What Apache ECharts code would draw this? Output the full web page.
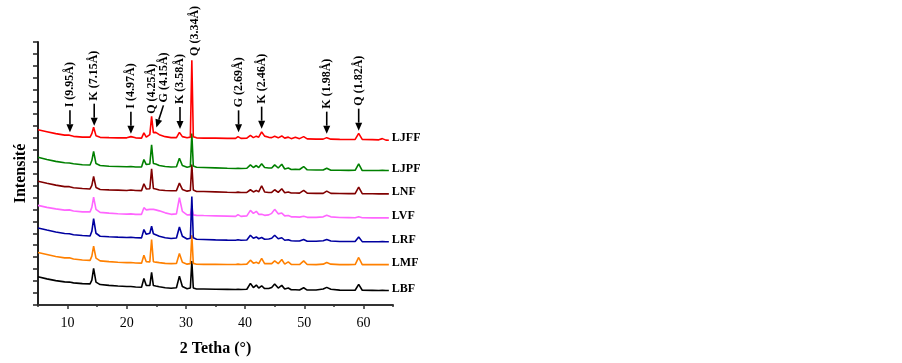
<!DOCTYPE html>
<html><head><meta charset="utf-8">
<script src="https://cdn.jsdelivr.net/npm/echarts@6/dist/echarts.min.js"></script>
<style>html,body{margin:0;padding:0;background:#fff}#c{width:902px;height:363px}</style>
</head><body><div id="c"></div>
<script>
// 2θ grid (degrees)
const twoTheta = [5,6.5,8,9.5,10.3,11,12.5,13.8,14.1,14.4,14.8,15.5,17,18.5,20,20.7,21.5,22.5,22.9,23.3,23.9,24.2,24.5,24.9,25.5,26.5,27.5,28.4,28.9,29.4,30.2,30.75,31.0,31.25,31.8,33,35,37,38.4,38.8,39.3,40.3,40.9,41.4,41.9,42.3,42.8,43.3,44,44.5,45.0,45.6,46.2,46.7,47.3,47.8,48.5,49.2,49.9,50.5,52,53.2,53.8,54.5,56,57.5,58.6,59.2,59.8,61.5,62.6,63.2,63.8,64.3];

// stacked intensities (a.u., offset per sample)
const LJFF = [176,174,172,170.5,170.5,169.3,168.5,168.5,172,178.5,170,168.3,168,167.8,167.8,169,167.8,167.5,172.7,168.5,171,189.3,173,173.3,171,169,168,168,173.3,169,167.8,168.5,245.7,169,167.8,167.5,167.5,167.3,167.3,169,167.3,167.5,170.3,168,169.5,168.5,173.7,169.5,168.3,168,169.3,167.8,169.7,167.5,168.5,167,168.5,167,169,166.8,166.5,166.5,168,166.5,166.3,166.2,166.3,172.3,166.2,166,165.8,167,165.5,165.3];
const LJPF = [148.3,146,144.2,142.8,142.6,141.8,140.8,140.5,145,154.3,142,140,139.3,139,138.7,139,138.5,138.5,146,141,141.5,160.7,142,141.5,140,139,138.5,138.7,147.3,140,138.3,139,172,139.5,138.2,138,137.6,137.2,137,137.3,137,137.3,140.7,138,140,138,141.7,138,137.5,137.5,140.7,137.5,141.3,136.5,137.5,136,136.2,136,139,135.7,135.5,135.5,137.3,135.3,135.2,135.1,135.2,141.7,135,135,135,135.3,135,135];
const LNF = [124.3,122.2,120.3,118.8,118.8,117.7,116.9,116.5,120,129,118,116,115.6,115.3,115,115.5,115,114.8,121.7,116.5,116.7,136.7,117,116.5,115.5,115,114.7,114.8,122.3,116,114.3,115,141,115.5,114,114,113.6,113.2,113,113.3,113,113,115.7,113.5,115,113.5,119.7,113.5,113,113,115.7,113,116.7,112.7,113.5,112.5,112.5,112.3,115,112.2,112,112,114.3,112,111.9,111.8,111.8,118.3,111.7,111.6,111.5,111.6,111.5,111.5];
const LVF = [100,98,96.5,95.2,95.5,94.3,93.5,93.5,98,108.3,96,93,92.2,91.6,91.2,91.5,91,91,97.7,95.5,96,96.5,96,95.5,94.5,92.5,91,91.5,107.7,94,90.5,90.5,98,90.5,90,89.8,89.5,89.2,89,90.7,89,89.5,95,92,94,91,91,90,90.5,92,96,91.5,92.3,89.5,89.8,88.5,88.5,88.2,89,88,88,88.5,90,88.5,87.8,87.7,87.6,88.5,87.6,87.5,87.5,87.6,87.5,87.5];
const LRF = [77.3,75.2,73.2,71.7,71.5,70.5,69.7,69.3,74,86.7,72,69,68.5,68.1,67.8,68,67.5,67.4,75.7,71,72,79,71.5,70.5,69,67.5,66.8,67.2,78.3,69,66.2,67,109,67.5,66,65.8,65.4,65.1,65,65.5,65,65.3,70,67,68.3,66.5,67.7,66,66.3,67,70,66.5,67.5,65,65.5,64.5,64.3,64.2,65.7,64,64,64.5,65.7,64.3,63.8,63.7,63.7,68.3,63.6,63.5,63.5,63.6,63.5,63.5];
const LMF = [52.7,50.7,48.7,47.3,47.5,46.2,45.2,44.8,49,59,47,44.3,43.5,42.9,42.5,42.6,42.2,42,50,43.5,43.3,65.7,43.5,43,42.5,41.8,41.5,41.7,51.7,43,41,41.5,70,41.8,40.9,40.8,40.8,40.7,40.7,41,40.7,41,45,42,43,41.5,46.7,41.5,41.5,41.5,44.3,41.5,45.7,41,43.3,40.7,40.7,40.6,44.3,40.6,40.5,41,42.7,41,40.5,40.5,40.6,47.7,40.5,40.5,40.5,40.6,40.5,40.5];
const LBF = [28.3,26.2,24.5,23.2,23,22.2,21.5,21.2,25,36.7,23,20.5,19.7,19,18.5,18.6,18.1,17.8,26.7,19.5,19.5,32.7,19.5,19,18.3,17.3,16.8,17.3,29,18.5,16.3,17,44,17,16,16,15.8,15.7,15.6,15.8,15.5,15.8,21.7,17.5,20,17,19.3,16.5,16.5,17.5,21,17,19.7,16,17,15.3,15.3,15.1,17.3,15,15,16,17.7,15.8,14.9,14.8,14.8,20.7,14.8,14.7,14.6,14.8,14.5,14.5];

const sampleNames = ['LBF','LMF','LVF','LRF','LNF','LJPF','LJFF'];
const sampleValues = [LBF, LMF, LVF, LRF, LNF, LJPF, LJFF];
const sampleColors = ['#000000','#ff8000','#ff66ff','#0000a0','#800000','#008000','#ff0000'];

const xTickLabels = [10,20,30,40,50,60];

// peak annotations
const annLabels = ['I (9.95Å)','K (7.15Å)','I (4.97Å)','Q (4.25Å)','G (4.15Å)','K (3.58Å)','Q (3.34Å)','G (2.69Å)','K (2.46Å)','K (1.98Å)','Q (1.82Å)'];
const annTheta = [10.4,14.5,20.7,24.2,25.0,29.0,31.5,38.9,42.8,53.8,59.2];
const annTip = [173.3,180,172,192,178.3,176.7,250,173.3,177,172,175];
const annTextTheta = [10.4,14.5,20.7,24.2,26.2,29.0,31.5,38.9,42.8,53.8,59.2];
const annArrow = [1,1,1,0,1,1,0,1,1,1,1];

const FONT = '"Liberation Serif","Times New Roman",serif';
const chart = echarts.init(document.getElementById('c'), null, {renderer:'canvas'});

const lineSeries = sampleNames.map((n, k) => ({
  name: n, type: 'line', symbol: 'none', animation: false,
  data: twoTheta.map((t, i) => [t, sampleValues[k][i]]),
  lineStyle: {color: sampleColors[k], width: 1.6},
  itemStyle: {color: sampleColors[k]},
  endLabel: {show: true, formatter: n, distance: 3, offset: [0, -2],
    fontFamily: FONT, fontWeight: 'bold', fontSize: 12, color: '#000'}
}));

const ARROW_LEN = 22;
const annSeries = {
  type: 'custom', animation: false, clip: false, silent: true,
  data: annLabels.map((l, i) => [annTheta[i], annTip[i], annTextTheta[i], annArrow[i], i]),
  encode: {x: 0, y: 1},
  renderItem: function (params, api) {
    const tip = api.coord([api.value(0), api.value(1)]);
    const tx = api.coord([api.value(2), api.value(1)])[0];
    const idx = params.dataIndex;
    const children = [];
    let textBottom;
    if (api.value(3) === 1) {
      const sy = tip[1] - ARROW_LEN;
      const dx = tip[0] - tx, dy = tip[1] - sy;
      const L = Math.hypot(dx, dy), ux = dx / L, uy = dy / L;
      const headLen = 8, headW = 3.5;
      const bx = tip[0] - ux * headLen, by = tip[1] - uy * headLen;
      children.push({type: 'line', shape: {x1: tx, y1: sy, x2: bx, y2: by}, style: {stroke: '#000', lineWidth: 1.6}});
      children.push({type: 'polygon', shape: {points: [[tip[0], tip[1]], [bx - uy * headW, by + ux * headW], [bx + uy * headW, by - ux * headW]]}, style: {fill: '#000'}});
      textBottom = sy - 3;
    } else {
      textBottom = tip[1];
    }
    children.push({type: 'text', x: tx, y: textBottom, rotation: Math.PI / 2,
      style: {text: annLabels[idx], fontFamily: FONT, fontWeight: 'bold', fontSize: 12, fill: '#000', align: 'left', verticalAlign: 'middle'}});
    return {type: 'group', children: children};
  }
};

chart.setOption({
  animation: false,
  backgroundColor: '#fff',
  grid: {left: 38, right: 509, top: 42, bottom: 58, containLabel: false},
  xAxis: [{
    type: 'value', min: 5, max: 65, interval: 5,
    name: '2 Tetha (°)', nameLocation: 'middle', nameGap: 36,
    nameTextStyle: {fontFamily: FONT, fontWeight: 'bold', fontSize: 16, color: '#000'},
    axisLine: {show: true, lineStyle: {color: '#333', width: 2}},
    axisTick: {show: true, inside: false, length: 4, customValues: xTickLabels, lineStyle: {color: '#333', width: 1.5}},
    axisLabel: {show: true, customValues: xTickLabels, margin: 11, fontFamily: FONT, fontSize: 14, color: '#000',
      formatter: v => (v % 10 === 0 && v >= 10 && v <= 60) ? String(v) : ''},
    splitLine: {show: false}
  }, {
    type: 'value', min: 5, max: 65, interval: 10, position: 'bottom',
    axisLine: {show: false}, axisLabel: {show: false}, splitLine: {show: false},
    axisTick: {show: true, inside: false, length: 2, lineStyle: {color: '#333', width: 1.5}}
  }],
  yAxis: {
    type: 'value', min: 0, max: 264, interval: 12,
    name: 'Intensité', nameLocation: 'middle', nameGap: 9, nameRotate: 90,
    nameTextStyle: {fontFamily: FONT, fontWeight: 'bold', fontSize: 16, color: '#000'},
    axisLine: {show: true, lineStyle: {color: '#222', width: 2}},
    axisTick: {show: true, inside: false, length: 5, lineStyle: {color: '#222', width: 1.5}},
    axisLabel: {show: false},
    splitLine: {show: false}
  },
  series: lineSeries.concat([annSeries])
});
</script>
</body></html>
